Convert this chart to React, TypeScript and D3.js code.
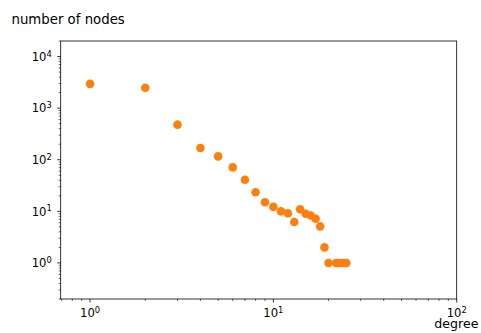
import React, { useEffect, useRef } from 'react';
import * as d3 from 'd3';

const degrees = [1, 2, 3, 4, 5, 6, 7, 8, 9, 10, 11, 12, 13, 14, 15, 16, 17, 18, 19, 20, 22, 23, 24, 25];
const counts = [2950, 2480, 478, 169, 116, 71, 41, 23.4, 15, 12.2, 10, 9.2, 6.2, 11, 9, 8.3, 7.2, 5.1, 2, 1, 1, 1, 1, 1];
const xMajor = [0, 1, 2];
const yMajor = [0, 1, 2, 3, 4];

const W = 481;
const H = 333;
const M = { left: 60.7, right: W - 456.7, top: 41, bottom: H - 299 };

export default function App() {
  const ref = useRef<SVGSVGElement>(null);

  useEffect(() => {
    const svg = d3.select(ref.current);
    svg.selectAll('*').remove();

    const x = d3.scaleLog().domain([Math.pow(10, -0.16), 100]).range([M.left, W - M.right]);
    const y = d3.scaleLog().domain([0.2, 20000]).range([H - M.bottom, M.top]);

    const font = 'DejaVu Sans, sans-serif';

    // minor ticks
    const minorX: number[] = [];
    const minorY: number[] = [];
    for (let e = -1; e <= 4; e++) {
      for (let k = 2; k <= 9; k++) {
        const v = k * Math.pow(10, e);
        if (v >= x.domain()[0] && v <= x.domain()[1]) minorX.push(v);
        if (v >= y.domain()[0] && v <= y.domain()[1]) minorY.push(v);
      }
    }

    const g = svg.append('g');

    g.selectAll('line.mx')
      .data(minorX)
      .join('line')
      .attr('x1', d => x(d)).attr('x2', d => x(d))
      .attr('y1', H - M.bottom).attr('y2', H - M.bottom + 2)
      .attr('stroke', '#000').attr('stroke-width', 0.6);

    g.selectAll('line.my')
      .data(minorY)
      .join('line')
      .attr('y1', d => y(d)).attr('y2', d => y(d))
      .attr('x1', M.left).attr('x2', M.left - 2)
      .attr('stroke', '#000').attr('stroke-width', 0.6);

    g.selectAll('line.Mx')
      .data(xMajor)
      .join('line')
      .attr('x1', d => x(Math.pow(10, d))).attr('x2', d => x(Math.pow(10, d)))
      .attr('y1', H - M.bottom).attr('y2', H - M.bottom + 3.5)
      .attr('stroke', '#000').attr('stroke-width', 0.8);

    g.selectAll('line.My')
      .data(yMajor)
      .join('line')
      .attr('y1', d => y(Math.pow(10, d))).attr('y2', d => y(Math.pow(10, d)))
      .attr('x1', M.left).attr('x2', M.left - 3.5)
      .attr('stroke', '#000').attr('stroke-width', 0.8);

    const xl = g.selectAll('text.xl')
      .data(xMajor)
      .join('text')
      .attr('x', d => x(Math.pow(10, d)))
      .attr('y', H - M.bottom + 18.3)
      .attr('text-anchor', 'middle')
      .style('font', `11.6px ${font}`);
    xl.append('tspan').text('10');
    xl.append('tspan').attr('dy', -4.2).style('font-size', '8.3px').text(d => String(d));

    const yl = g.selectAll('text.yl')
      .data(yMajor)
      .join('text')
      .attr('x', M.left - 9)
      .attr('y', d => y(Math.pow(10, d)) + 4.3)
      .attr('text-anchor', 'end')
      .style('font', `11.6px ${font}`);
    yl.append('tspan').text('10');
    yl.append('tspan').attr('dy', -4.2).style('font-size', '8.3px').text(d => String(d));

    svg.append('g')
      .selectAll('circle')
      .data(degrees)
      .join('circle')
      .attr('cx', d => x(d))
      .attr('cy', (d, i) => y(counts[i]))
      .attr('r', 4.3)
      .attr('fill', '#ff7f0e');

    svg.append('rect')
      .attr('x', M.left).attr('y', M.top)
      .attr('width', W - M.left - M.right).attr('height', H - M.top - M.bottom)
      .attr('fill', 'none').attr('stroke', '#000').attr('stroke-width', 0.8);

    svg.append('text')
      .attr('x', 11.5).attr('y', 24)
      .style('font', `13.3px ${font}`)
      .text('number of nodes');

    svg.append('text')
      .attr('x', 478.5).attr('y', 328.3)
      .attr('text-anchor', 'end')
      .style('font', `12.6px ${font}`)
      .text('degree');
  }, []);

  return <svg ref={ref} width={W} height={H} style={{ position: 'absolute', left: 0, top: 0, background: '#fff' }} />;
}
